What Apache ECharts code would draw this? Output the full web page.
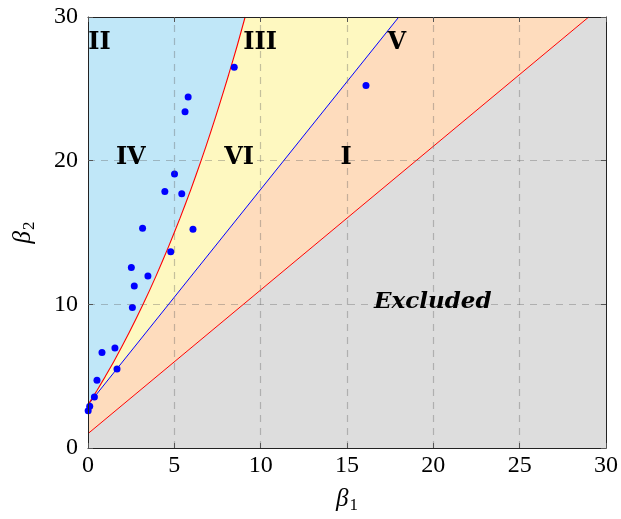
<!DOCTYPE html>
<html>
<head>
<meta charset="utf-8">
<title>Pearson diagram (β1, β2)</title>
<script src="https://cdn.jsdelivr.net/npm/echarts@6/dist/echarts.min.js"></script>
<style>
  html, body { margin: 0; padding: 0; background: #ffffff; }
  #chart { width: 621px; height: 519px; }
</style>
</head>
<body>
<div id="chart"></div>
<script>
// Axis ticks
const xTicks = [0, 5, 10, 15, 20, 25, 30];
const yTicks = [0, 10, 20, 30];

// Observed (β1, β2) sample points
const sampleBeta1 = [0.01, 0.10, 0.37, 0.52, 0.81, 1.56, 1.68, 2.57, 2.68, 2.51, 3.47,
                     4.79, 3.16, 6.08, 4.45, 5.43, 5.01, 5.62, 5.80, 8.47, 16.10];
const sampleBeta2 = [2.60, 2.90, 3.55, 4.71, 6.64, 6.96, 5.50, 9.78, 11.27, 12.56, 11.97,
                     13.66, 15.30, 15.23, 17.85, 17.69, 19.07, 23.41, 24.44, 26.50, 25.23];

// Lower limit β2 = β1 + 1 (end points)
const limitLine = [[0, 1], [29, 30]];
// Type III line (end points)
const typeIIILine = [[0, 3], [18, 30]];
// Type V curve, sampled along β2
const typeVCurve = [[0, 3], [0.52, 4], [1.01, 5], [1.49, 6], [2.37, 8], [3.19, 10],
                    [3.95, 12], [4.66, 14], [5.33, 16], [5.96, 18], [6.55, 20],
                    [7.11, 22], [7.64, 24], [8.15, 26], [8.64, 28], [9.10, 30]];

// Region names and where they are written
const regionNames = ['II', 'III', 'V', 'IV', 'VI', 'I'];
const regionNameAt = [[0.66, 28.2], [9.97, 28.2], [17.88, 28.2], [2.48, 20.2], [8.75, 20.2], [14.95, 20.2]];
const excludedText = 'Excluded';
const excludedAt = [19.97, 10.15];

const X_MIN = xTicks[0], X_MAX = xTicks[xTicks.length - 1];
const Y_MIN = yTicks[0], Y_MAX = yTicks[yTicks.length - 1];

// Filled regions built from the boundary lines
const regions = [
  { // excluded zone below the lower limit
    fill: '#dddddd',
    pts: [[X_MIN, Y_MIN], [X_MAX, Y_MIN], [X_MAX, Y_MAX], limitLine[1], limitLine[0]]
  },
  { // type I: between the limit and the type III line
    fill: '#fedcbd',
    pts: [limitLine[0], limitLine[1], typeIIILine[1], typeIIILine[0]]
  },
  { // type VI: between the type III line and the type V curve
    fill: '#fef8c0',
    pts: [typeIIILine[0], typeIIILine[1]].concat(typeVCurve.slice().reverse())
  },
  { // type IV: above the type V curve
    fill: '#c0e7f8',
    pts: typeVCurve.concat([[X_MIN, Y_MAX]])
  }
];

const serif = '"Liberation Serif", "DejaVu Serif", serif';

const chart = echarts.init(document.getElementById('chart'));

const gridMarks = [];
xTicks.slice(1, -1).forEach(v => gridMarks.push({ xAxis: v }));
yTicks.slice(1, -1).forEach(v => gridMarks.push({ yAxis: v }));

const baseAxis = {
  type: 'value',
  splitLine: { show: false },
  axisLine: { show: true, onZero: false, lineStyle: { color: '#222', width: 1 } },
  axisTick: { show: true, inside: true, length: 5, lineStyle: { color: '#555', width: 1 } },
  z: 10
};

const nameRich = {
  b: { fontFamily: serif, fontStyle: 'italic', fontSize: 25, color: '#000', lineHeight: 30 },
  s: { fontFamily: serif, fontSize: 17, color: '#000', lineHeight: 30, verticalAlign: 'bottom', padding: [0, 0, 0, 1] }
};

chart.setOption({
  animation: false,
  backgroundColor: '#ffffff',
  grid: { left: 88, right: 14, top: 17, bottom: 71, containLabel: false },
  xAxis: [
    Object.assign({}, baseAxis, {
      position: 'bottom', min: X_MIN, max: X_MAX, interval: 5,
      axisLabel: { color: '#000', fontFamily: serif, fontSize: 24, margin: 6 },
      name: '{b|β}{s|1}', nameLocation: 'middle', nameGap: 36,
      nameTextStyle: { rich: nameRich }
    }),
    Object.assign({}, baseAxis, {
      position: 'top', min: X_MIN, max: X_MAX, interval: 5, axisLabel: { show: false }
    })
  ],
  yAxis: [
    Object.assign({}, baseAxis, {
      position: 'left', min: Y_MIN, max: Y_MAX, interval: 10,
      axisLabel: { color: '#000', fontFamily: serif, fontSize: 24, margin: 10 },
      name: '{b|β}{s|2}', nameLocation: 'middle', nameGap: 50, nameRotate: 90,
      nameTextStyle: { rich: nameRich }
    }),
    Object.assign({}, baseAxis, {
      position: 'right', min: Y_MIN, max: Y_MAX, interval: 10, axisLabel: { show: false }
    })
  ],
  series: [
    {
      // shaded regions
      type: 'custom',
      z: 1,
      silent: true,
      clip: true,
      data: regions.map((r, i) => [i]),
      dimensions: ['idx'],
      encode: { x: -1, y: -1 },
      renderItem: function (params, api) {
        const r = regions[params.dataIndex];
        return {
          type: 'polygon',
          shape: { points: r.pts.map(p => api.coord(p)) },
          style: { fill: r.fill, stroke: null }
        };
      }
    },
    {
      // dashed grid drawn over the shading
      type: 'line',
      z: 2,
      data: [],
      silent: true,
      markLine: {
        silent: true,
        symbol: ['none', 'none'],
        label: { show: false },
        lineStyle: { type: [7, 6], color: 'rgba(90,90,90,0.35)', width: 1.2 },
        data: gridMarks
      }
    },
    {
      type: 'line', z: 3, data: limitLine, symbol: 'none', silent: true,
      lineStyle: { color: '#ff0000', width: 1 }
    },
    {
      type: 'line', z: 3, data: typeIIILine, symbol: 'none', silent: true,
      lineStyle: { color: '#0000ff', width: 1 }
    },
    {
      type: 'line', z: 3, data: typeVCurve, symbol: 'none', silent: true, smooth: 0.2,
      lineStyle: { color: '#ff0000', width: 1.1 }
    },
    {
      type: 'scatter', z: 4, symbol: 'circle', symbolSize: 7,
      itemStyle: { color: '#0000ff', opacity: 1 },
      data: sampleBeta1.map((b1, i) => [b1, sampleBeta2[i]])
    },
    {
      // region names
      type: 'scatter', z: 5, symbolSize: 0, silent: true,
      itemStyle: { opacity: 1 },
      data: regionNames.map((n, i) => ({ value: regionNameAt[i], name: n })),
      label: {
        show: true, position: 'inside', formatter: '{b}',
        fontFamily: '"DejaVu Serif", serif', fontWeight: 'bold', fontSize: 24, color: '#000'
      }
    },
    {
      type: 'scatter', z: 5, symbolSize: 0, silent: true,
      itemStyle: { opacity: 1 },
      data: [{ value: excludedAt, name: excludedText }],
      label: {
        show: true, position: 'inside', formatter: '{b}',
        fontFamily: '"DejaVu Serif", serif', fontWeight: 'bold', fontStyle: 'italic', fontSize: 23, color: '#000'
      }
    }
  ]
});
</script>
</body>
</html>
